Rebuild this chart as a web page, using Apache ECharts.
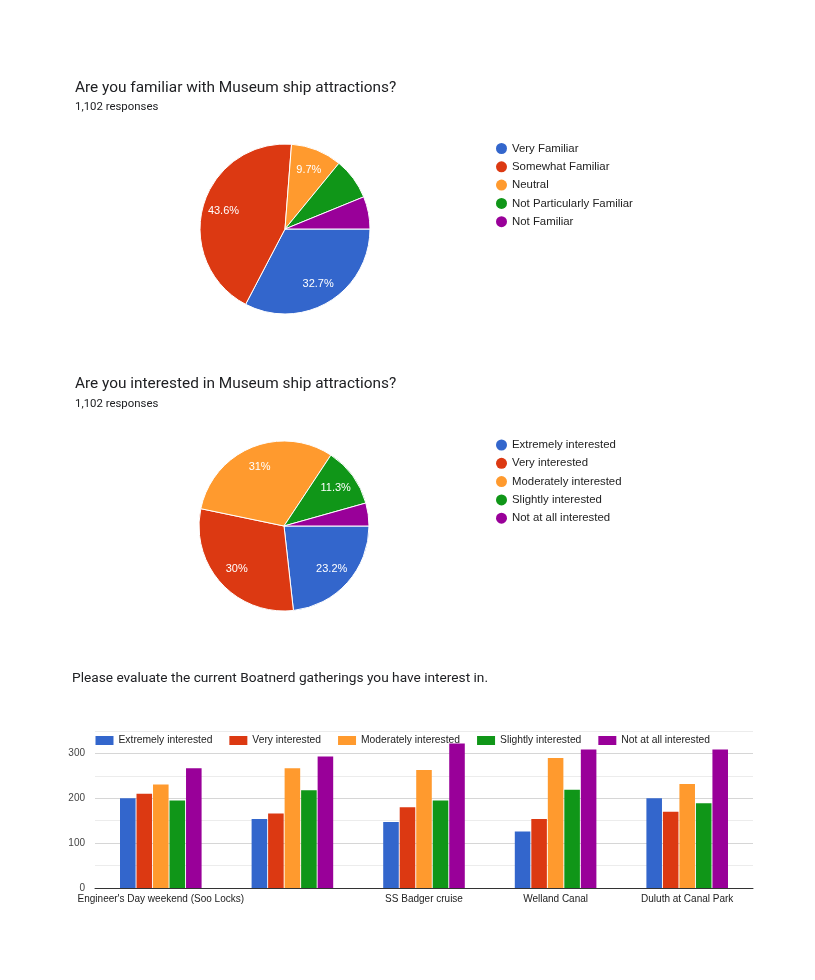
<!DOCTYPE html>
<html>
<head>
<meta charset="utf-8">
<title>Museum ship survey</title>
<script src="https://cdn.jsdelivr.net/npm/echarts@6/dist/echarts.min.js"></script>
<style>
  html, body { margin: 0; padding: 0; background: #fff; }
  #main { width: 815px; height: 980px; }
</style>
</head>
<body>
<div id="main"></div>
<script>
// google chart palette
var colors = ['#3366cc', '#dc3912', '#ff9a2e', '#109618', '#990099'];

// pie 1 - familiarity (counts out of 1,102)
var familiarNames = ['Very Familiar', 'Somewhat Familiar', 'Neutral', 'Not Particularly Familiar', 'Not Familiar'];
var familiarCounts = [360, 480, 107, 87, 68];

// pie 2 - interest (counts out of 1,102)
var interestNames = ['Extremely interested', 'Very interested', 'Moderately interested', 'Slightly interested', 'Not at all interested'];
var interestCounts = [256, 331, 342, 125, 48];

// bar chart - gatherings (second label is hidden in the original)
var gatherings = ["Engineer's Day weekend (Soo Locks)", '', 'SS Badger cruise', 'Welland Canal', 'Duluth at Canal Park'];
var extremely = [200, 154, 147, 126, 200];
var very = [210, 166, 180, 154, 170];
var moderately = [231, 267, 263, 290, 232];
var slightly = [195, 218, 195, 219, 189];
var notAtAll = [267, 293, 322, 309, 309];
var barValues = [extremely, very, moderately, slightly, notAtAll];

var yTickLabels = [0, 100, 200, 300];

function toPieData(names, counts) {
	return names.map(function(n, i) {
		return { name: n, value: counts[i] };
	});
}

// google only labels the bigger slices
function pieLabel(p) {
	if (p.percent < 8.5) return '';
	return parseFloat(p.percent.toFixed(1)) + '%';
}

var myChart = echarts.init(document.getElementById('main'));

var titleFont = 'Roboto, "Noto Sans", sans-serif';
var chartFont = '"Liberation Sans", Arial, sans-serif';

function titleItem(text, left, top, size) {
	return {
		text: text, left: left, top: top, padding: 0,
		textStyle: { fontFamily: titleFont, fontSize: size, fontWeight: 'normal', color: '#202124' }
	};
}

function pieLegend(names, top) {
	return {
		data: names,
		orient: 'vertical',
		left: 496, top: top, padding: 0,
		icon: 'circle', itemWidth: 11, itemHeight: 11, itemGap: 7.3,
		itemStyle: { borderWidth: 0 },
		selectedMode: false,
		textStyle: { fontFamily: chartFont, fontSize: 11.4, lineHeight: 11, color: '#222' }
	};
}

var barSeries = interestNames.map(function(n, i) {
	return {
		name: n,
		type: 'bar',
		barCategoryGap: '38%',
		barGap: '6%',
		itemStyle: { color: colors[i] },
		data: barValues[i]
	};
});

var option = {
	backgroundColor: '#fff',
	color: colors,
	animation: false,
	title: [
		titleItem('Are you familiar with Museum ship attractions?', 75, 81, 15.4),
		titleItem('1,102 responses', 75, 102, 11.4),
		titleItem('Are you interested in Museum ship attractions?', 75, 377, 15.4),
		titleItem('1,102 responses', 75, 399, 11.4),
		titleItem('Please evaluate the current Boatnerd gatherings you have interest in.', 72, 671.5, 13.7)
	],
	legend: [
		pieLegend(familiarNames, 143),
		pieLegend(interestNames, 439.5),
		{
			data: interestNames,
			orient: 'horizontal',
			left: 95.5, top: 735.5, padding: 0,
			icon: 'rect', itemWidth: 18, itemHeight: 9, itemGap: 17,
			selectedMode: false,
			textStyle: { fontFamily: chartFont, fontSize: 10.3, lineHeight: 10, color: '#222' }
		}
	],
	grid: { left: 95, right: 62, top: 731, bottom: 92, containLabel: false },
	xAxis: {
		type: 'category',
		data: gatherings,
		axisLine: { lineStyle: { color: '#333', width: 1 } },
		axisTick: { show: false },
		axisLabel: { fontFamily: chartFont, fontSize: 10, color: '#222', margin: 6, interval: 0 }
	},
	yAxis: {
		type: 'value',
		min: 0, max: 350, interval: 50,
		axisLine: { show: false },
		axisTick: { show: false },
		splitLine: { lineStyle: { color: ['#d6d6d6', '#ececec'] } },
		axisLabel: {
			fontFamily: chartFont, fontSize: 10, color: '#444', margin: 10,
			formatter: function(v) {
				return yTickLabels.indexOf(v) >= 0 ? v : '';
			}
		}
	},
	series: [
		{
			name: 'familiar',
			type: 'pie',
			radius: [0, 85],
			center: [285, 229],
			startAngle: 0,
			clockwise: true,
			label: { show: false },
			labelLine: { show: false },
			itemStyle: { borderColor: '#fff', borderWidth: 1 },
			silent: true,
			data: toPieData(familiarNames, familiarCounts)
		},
		{
			// transparent ring only to place the % labels farther out, like google does
			name: 'familiarLabels',
			type: 'pie',
			radius: [37, 85],
			center: [285, 229],
			startAngle: 0,
			clockwise: true,
			silent: true,
			itemStyle: { color: 'transparent' },
			label: { show: true, position: 'inside', formatter: pieLabel, color: '#fff', fontFamily: chartFont, fontSize: 11 },
			labelLine: { show: false },
			data: toPieData(familiarNames, familiarCounts)
		},
		{
			name: 'interest',
			type: 'pie',
			radius: [0, 85],
			center: [284, 526],
			startAngle: 0,
			clockwise: true,
			label: { show: false },
			labelLine: { show: false },
			itemStyle: { borderColor: '#fff', borderWidth: 1 },
			silent: true,
			data: toPieData(interestNames, interestCounts)
		},
		{
			name: 'interestLabels',
			type: 'pie',
			radius: [37, 85],
			center: [284, 526],
			startAngle: 0,
			clockwise: true,
			silent: true,
			itemStyle: { color: 'transparent' },
			label: { show: true, position: 'inside', formatter: pieLabel, color: '#fff', fontFamily: chartFont, fontSize: 11 },
			labelLine: { show: false },
			data: toPieData(interestNames, interestCounts)
		}
	].concat(barSeries)
};

myChart.setOption(option);
</script>
</body>
</html>
